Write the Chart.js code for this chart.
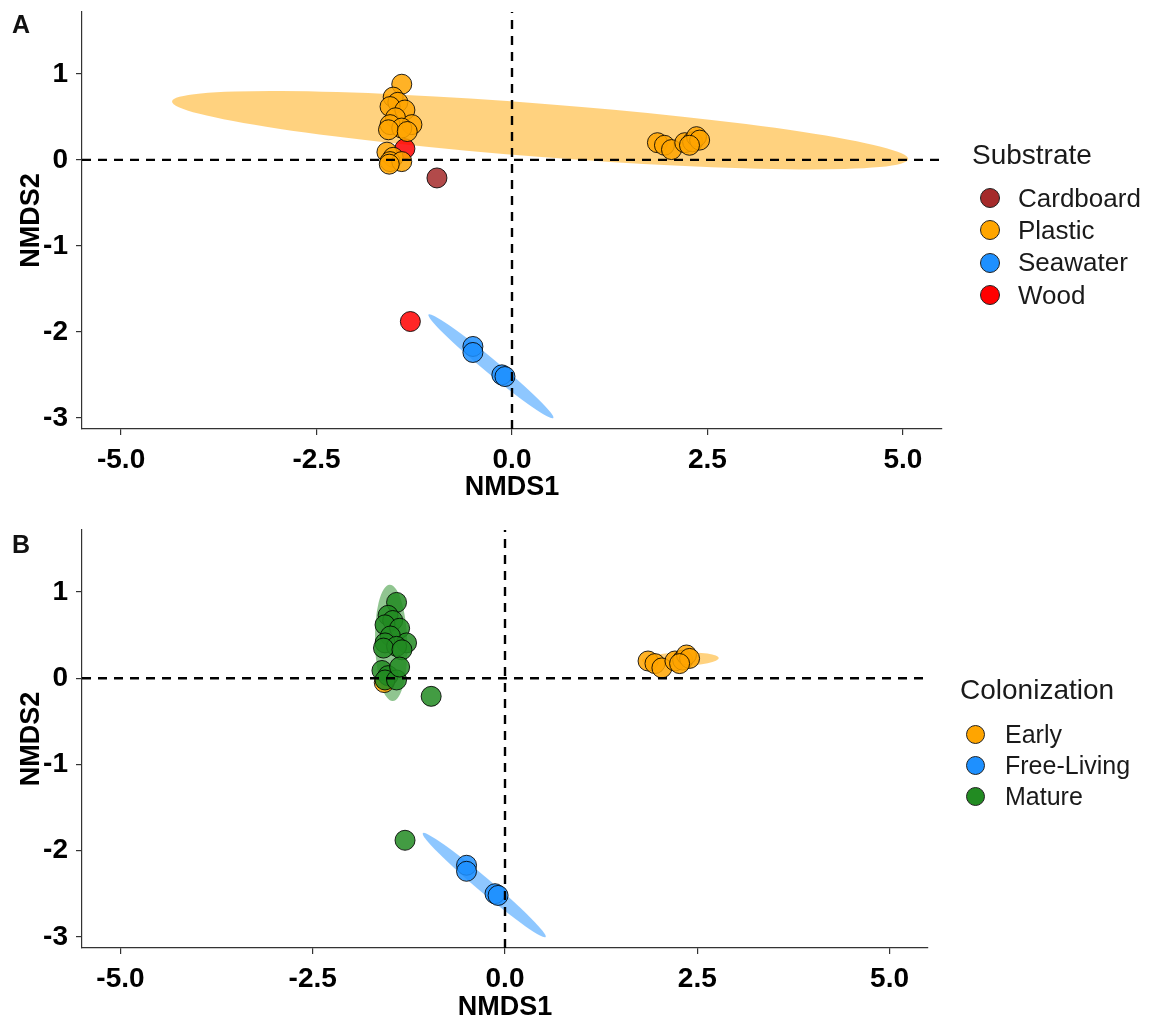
<!DOCTYPE html>
<html>
<head>
<meta charset="utf-8">
<title>NMDS ordination by substrate and colonization</title>
<script src="https://cdn.jsdelivr.net/npm/chart.js@4.4.1/dist/chart.umd.min.js"></script>
<style>
  body { margin: 0; background: #fff; font-family: "Liberation Sans", Arial, sans-serif; }
  #page { position: relative; width: 1150px; height: 1030px; overflow: hidden; }
  .panel { position: absolute; left: 0; width: 1150px; height: 515px; }
  .panel canvas { position: absolute; left: 0; top: 0; }
  .tag { position: absolute; left: 12px; font-weight: bold; font-size: 25px; line-height: 28px; color: #111; }
  .legend { position: absolute; color: #1a1a1a; white-space: nowrap; }
  .legend .row { display: flex; align-items: center; }
  .legend .dot { border-radius: 50%; border: 1.5px solid #222; box-sizing: border-box; flex: none; }
</style>
</head>
<body>
<div id="page">
  <div class="panel" style="top:0">
    <canvas id="chartA" width="1150" height="515"></canvas>
    <div class="tag" style="top:10px">A</div>
    <div class="legend" id="legendA"></div>
  </div>
  <div class="panel" style="top:515px">
    <canvas id="chartB" width="1150" height="515"></canvas>
    <div class="tag" style="top:15px">B</div>
    <div class="legend" id="legendB"></div>
  </div>
</div>
<script>
// NMDS scores, one entry per sample
const nmds1 = [-1.41, -1.52, -1.46, -1.56, -1.37, -1.49, -1.28, -1.56, -1.41, -1.58, -1.34,
               -1.60, -1.52, -1.56, -1.41, -1.57,
               1.86, 1.95, 2.04, 2.21, 2.31, 2.36, 2.40, 2.27,
               -0.96, -1.37, -1.30,
               -0.50, -0.50, -0.13, -0.09];
const nmds2 = [0.88, 0.73, 0.67, 0.62, 0.58, 0.49, 0.41, 0.41, 0.37, 0.35, 0.33,
               0.09, 0.03, -0.02, -0.02, -0.05,
               0.20, 0.17, 0.12, 0.20, 0.21, 0.27, 0.23, 0.17,
               -0.21, 0.13, -1.88,
               -2.17, -2.24, -2.50, -2.52];
const substrate = ['Plastic', 'Plastic', 'Plastic', 'Plastic', 'Plastic', 'Plastic', 'Plastic', 'Plastic', 'Plastic', 'Plastic', 'Plastic',
                   'Plastic', 'Plastic', 'Plastic', 'Plastic', 'Plastic',
                   'Plastic', 'Plastic', 'Plastic', 'Plastic', 'Plastic', 'Plastic', 'Plastic', 'Plastic',
                   'Cardboard', 'Wood', 'Wood',
                   'Seawater', 'Seawater', 'Seawater', 'Seawater'];
const colonization = ['Mature', 'Mature', 'Mature', 'Mature', 'Mature', 'Mature', 'Mature', 'Mature', 'Mature', 'Mature', 'Mature',
                      'Mature', 'Mature', 'Mature', 'Mature', 'Early',
                      'Early', 'Early', 'Early', 'Early', 'Early', 'Early', 'Early', 'Early',
                      'Mature', 'Mature', 'Mature',
                      'Free-Living', 'Free-Living', 'Free-Living', 'Free-Living'];

const substrateLevels = ['Cardboard', 'Plastic', 'Seawater', 'Wood'];
const substrateColours = ['#A52A2A', '#FFA500', '#1E90FF', '#FF0000'];
const colonizationLevels = ['Early', 'Free-Living', 'Mature'];
const colonizationColours = ['#FFA500', '#1E90FF', '#228B22'];

const xTicks = [-5, -2.5, 0, 2.5, 5];
const yTicks = [-3, -2, -1, 0, 1];

// group ellipses: centre x, centre y, semi-axis a, semi-axis b, tilt (rad)
const substrateEllipses = {
  Plastic: [0.36, 0.345, 4.72, 0.31, -0.071],
  Seawater: [-0.27, -2.40, 1.0, 0.085, -0.646]
};
const colonizationEllipses = {
  Early: [2.28, 0.22, 0.5, 0.08, 0.03],
  'Free-Living': [-0.27, -2.40, 1.0, 0.085, -0.646],
  Mature: [-1.48, 0.41, 0.675, 0.21, 1.6]
};

const FONT = '"Liberation Sans", Arial, sans-serif';

function fade(hex, a) {
  const n = parseInt(hex.slice(1), 16);
  return `rgba(${n >> 16},${(n >> 8) & 255},${n & 255},${a})`;
}

function ellipsePlugin(ellipses, levels, colours) {
  return {
    id: 'groupEllipses',
    beforeDatasetsDraw(chart) {
      const { ctx, chartArea: area, scales: { x, y } } = chart;
      const kx = x.getPixelForValue(1) - x.getPixelForValue(0);
      const ky = y.getPixelForValue(0) - y.getPixelForValue(1);
      ctx.save();
      ctx.beginPath();
      ctx.rect(area.left, area.top, area.width, area.height);
      ctx.clip();
      levels.forEach((lev, i) => {
        const e = ellipses[lev];
        if (!e) return;
        ctx.save();
        ctx.translate(x.getPixelForValue(e[0]), y.getPixelForValue(e[1]));
        ctx.scale(kx, -ky);
        ctx.rotate(e[4]);
        ctx.beginPath();
        ctx.ellipse(0, 0, e[2], e[3], 0, 0, Math.PI * 2);
        ctx.restore();
        ctx.fillStyle = fade(colours[i], 0.5);
        ctx.fill();
      });
      ctx.restore();
    }
  };
}

// dashed reference lines through the origin, drawn over the points
const zeroLines = {
  id: 'zeroLines',
  afterDatasetsDraw(chart) {
    const { ctx, chartArea: a, scales: { x, y } } = chart;
    const x0 = x.getPixelForValue(0), y0 = y.getPixelForValue(0);
    ctx.save();
    ctx.strokeStyle = '#000';
    ctx.lineWidth = 2.4;
    ctx.setLineDash([9, 7]);
    ctx.beginPath();
    ctx.moveTo(a.left, y0);
    ctx.lineTo(a.right, y0);
    ctx.stroke();
    ctx.beginPath();
    ctx.moveTo(x0, a.bottom);
    ctx.lineTo(x0, a.top);
    ctx.stroke();
    ctx.restore();
  }
};

function drawPanel(canvasId, groupOf, levels, colours, ellipses, frame) {
  const datasets = levels.map((lev, i) => ({
    label: lev,
    data: nmds1.map((v, k) => ({ x: v, y: nmds2[k], g: groupOf[k] })).filter(p => p.g === lev),
    backgroundColor: fade(colours[i], 0.85),
    borderColor: 'rgba(0,0,0,0.85)',
    borderWidth: 1,
    pointRadius: 10,
    order: frame.under.includes(lev) ? 1 : 0
  }));

  const tickFont = { family: FONT, size: 28, weight: 'bold' };
  const titleFont = { family: FONT, size: 27, weight: 'bold' };
  const axisGrid = { display: true, drawOnChartArea: false, drawTicks: true, tickLength: 6, color: '#333', lineWidth: 1.2 };
  const axisBorder = { display: true, color: '#333', width: 1.2 };

  new Chart(document.getElementById(canvasId), {
    type: 'scatter',
    data: { datasets },
    options: {
      responsive: false,
      animation: false,
      events: [],
      layout: { padding: { left: 0, top: frame.top, right: frame.right, bottom: 0 } },
      plugins: { legend: { display: false }, tooltip: { enabled: false } },
      scales: {
        x: {
          min: -5.5, max: 5.5,
          afterBuildTicks: s => { s.ticks = xTicks.map(v => ({ value: v })); },
          afterFit: s => { s.height = frame.xHeight; s.paddingLeft = 0; s.paddingRight = 0; },
          ticks: { callback: v => v.toFixed(1), color: '#000', font: tickFont, padding: 8, maxRotation: 0, autoSkip: false },
          grid: axisGrid,
          border: axisBorder,
          title: { display: true, text: 'NMDS1', color: '#000', font: titleFont, padding: { top: 0, bottom: frame.xTitlePad } }
        },
        y: {
          min: -3.13, max: 1.72,
          afterBuildTicks: s => { s.ticks = yTicks.map(v => ({ value: v })); },
          afterFit: s => { s.width = 82; s.paddingTop = 0; s.paddingBottom = 0; },
          ticks: { callback: v => String(v), color: '#000', font: tickFont, padding: 8, autoSkip: false },
          grid: axisGrid,
          border: axisBorder,
          title: { display: true, text: 'NMDS2', color: '#000', font: titleFont, padding: { top: 15, bottom: 0 } }
        }
      }
    },
    plugins: [ellipsePlugin(ellipses, levels, colours), zeroLines]
  });
}

function buildLegend(id, title, levels, colours, spec) {
  const box = document.getElementById(id);
  box.style.left = spec.left + 'px';
  box.style.top = spec.top + 'px';
  const head = document.createElement('div');
  head.textContent = title;
  head.style.cssText = `font-size:28px;line-height:32px;margin-bottom:${spec.gap}px`;
  box.appendChild(head);
  levels.forEach((lev, i) => {
    const row = document.createElement('div');
    row.className = 'row';
    row.style.height = spec.row + 'px';
    const dot = document.createElement('span');
    dot.className = 'dot';
    dot.style.cssText = `width:${spec.dot}px;height:${spec.dot}px;margin-left:${spec.indent}px;margin-right:${spec.space}px;background:${colours[i]}`;
    const txt = document.createElement('span');
    txt.textContent = lev;
    txt.style.fontSize = spec.size + 'px';
    row.appendChild(dot);
    row.appendChild(txt);
    box.appendChild(row);
  });
}

drawPanel('chartA', substrate, substrateLevels, substrateColours, substrateEllipses,
  { top: 12, right: 208, xHeight: 86, xTitlePad: 11, under: ['Wood'] });
drawPanel('chartB', colonization, colonizationLevels, colonizationColours, colonizationEllipses,
  { top: 15, right: 222, xHeight: 82, xTitlePad: 6, under: ['Early'] });

buildLegend('legendA', 'Substrate', substrateLevels, substrateColours,
  { left: 972, top: 139, gap: 11, row: 32.3, dot: 20, indent: 8, space: 18, size: 26 });
buildLegend('legendB', 'Colonization', colonizationLevels, colonizationColours,
  { left: 960, top: 159, gap: 13.6, row: 30.8, dot: 19, indent: 6, space: 20, size: 25 });
</script>
</body>
</html>
